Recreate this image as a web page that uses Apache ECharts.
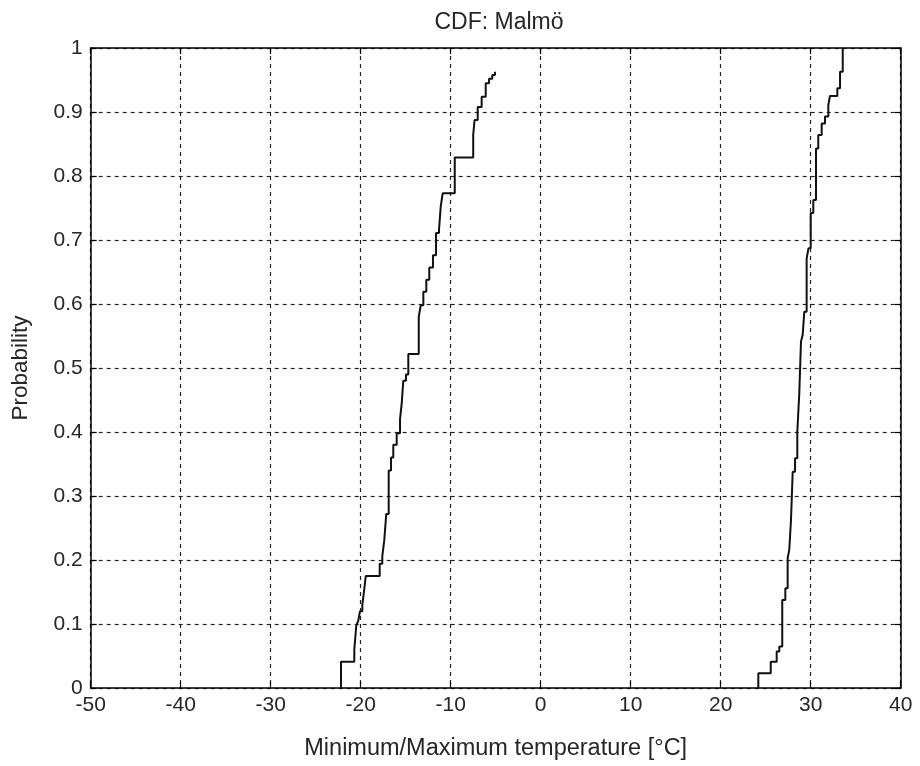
<!DOCTYPE html>
<html>
<head>
<meta charset="utf-8">
<script src="https://cdn.jsdelivr.net/npm/echarts@6/dist/echarts.min.js"></script>
<style>html,body{margin:0;padding:0;background:#fff}#c{width:920px;height:766px}</style>
</head>
<body>
<div id="c"></div>
<script>
// Minimum temperatures (step corners of the empirical CDF)
const minTemp = [-22.19,-22.19,-20.71,-20.49,-20.27,-20.08,-19.82,-19.6,-19.44,-17.89,-17.6,-17.38,-17.16,-16.89,-16.63,-16.38,-16.0,-15.63,-15.44,-15.27,-14.97,-14.71,-13.55,-13.33,-13.04,-12.71,-12.38,-11.97,-11.63,-11.3,-11.11,-10.89,-9.55,-7.5,-7.35,-7.0,-6.56,-6.11,-5.74,-5.38,-5.08];
const minProb = [0,0.041,0.060,0.098,0.105,0.12,0.13,0.155,0.175,0.194,0.206,0.231,0.272,0.34,0.36,0.38,0.398,0.42,0.445,0.48,0.49,0.522,0.58,0.598,0.619,0.638,0.657,0.676,0.711,0.716,0.752,0.773,0.829,0.864,0.8875,0.908,0.924,0.945,0.952,0.958,0.963];
// Maximum temperatures
const maxTemp = [24.18,24.18,25.56,26.22,26.51,26.84,27.18,27.44,27.62,27.81,28.0,28.26,28.51,28.73,28.92,29.11,29.29,29.55,29.75,30.0,30.29,30.59,30.84,31.22,31.59,31.96,32.14,32.96,33.26,33.56];
const maxProb = [0,0.023,0.041,0.057,0.065,0.1375,0.156,0.203,0.216,0.2625,0.338,0.359,0.40,0.46,0.541,0.552,0.588,0.671,0.687,0.742,0.7625,0.843,0.864,0.882,0.893,0.911,0.925,0.937,0.963,1.0];
const xTicks = [-50,-40,-30,-20,-10,0,10,20,30,40];
const yTicks = [0,0.1,0.2,0.3,0.4,0.5,0.6,0.7,0.8,0.9,1];
const titleText = 'CDF: Malmö';
const xName = 'Minimum/Maximum temperature [°C]';
const yName = 'Probability';

const FONT = 'Liberation Sans, Arial, sans-serif';
const TXT = '#262626';
const chart = echarts.init(document.getElementById('c'), null, {renderer:'canvas'});
const zip = (a,b)=>a.map((v,i)=>[v,b[i]]);
const lineStyleAx = {color:'#000', width:1.5};
const tick = {show:true,inside:true,length:6,lineStyle:{color:'#000',width:1.2}};
chart.setOption({
  animation:false,
  backgroundColor:'#fff',
  title:{text:titleText,left:494,top:6,textAlign:'center',
    textStyle:{fontFamily:FONT,fontSize:23,fontWeight:'normal',color:TXT}},
  grid:{left:90.7,right:19.3,top:48,bottom:78,show:false},
  xAxis:[{
    type:'value',min:xTicks[0],max:xTicks[xTicks.length-1],interval:10,position:'bottom',
    name:xName,nameLocation:'middle',nameGap:49,
    nameTextStyle:{fontFamily:FONT,fontSize:23.5,color:TXT},
    axisLine:{show:true,onZero:false,lineStyle:lineStyleAx},
    axisTick:tick,
    axisLabel:{fontFamily:FONT,fontSize:21,color:TXT,margin:7},
    splitLine:{show:true,lineStyle:{color:'#222',width:1.2,type:[4,4]}}
  },{
    type:'value',min:xTicks[0],max:xTicks[xTicks.length-1],interval:10,position:'top',
    axisLine:{show:true,onZero:false,lineStyle:lineStyleAx},
    axisTick:tick,
    axisLabel:{show:false},splitLine:{show:false}
  }],
  yAxis:[{
    type:'value',min:0,max:1,interval:0.1,position:'left',
    name:yName,nameLocation:'middle',nameGap:58,nameRotate:90,
    nameTextStyle:{fontFamily:FONT,fontSize:22.5,color:TXT},
    axisLine:{show:true,onZero:false,lineStyle:lineStyleAx},
    axisTick:tick,
    axisLabel:{fontFamily:FONT,fontSize:21,color:TXT,margin:8,
      formatter:v=>{const t=yTicks.find(k=>Math.abs(k-v)<1e-9);return t===undefined?'':String(t);}},
    splitLine:{show:true,lineStyle:{color:'#222',width:1.2,type:[4,4]}}
  },{
    type:'value',min:0,max:1,interval:0.1,position:'right',
    axisLine:{show:true,onZero:false,lineStyle:lineStyleAx},
    axisTick:tick,
    axisLabel:{show:false},splitLine:{show:false}
  }],
  series:[
    {type:'line',step:'end',data:zip(minTemp,minProb),showSymbol:false,
      lineStyle:{color:'#111',width:2},xAxisIndex:0,yAxisIndex:0,silent:true},
    {type:'line',step:'end',data:zip(maxTemp,maxProb),showSymbol:false,
      lineStyle:{color:'#111',width:2},xAxisIndex:0,yAxisIndex:0,silent:true}
  ]
});
</script>
</body>
</html>
